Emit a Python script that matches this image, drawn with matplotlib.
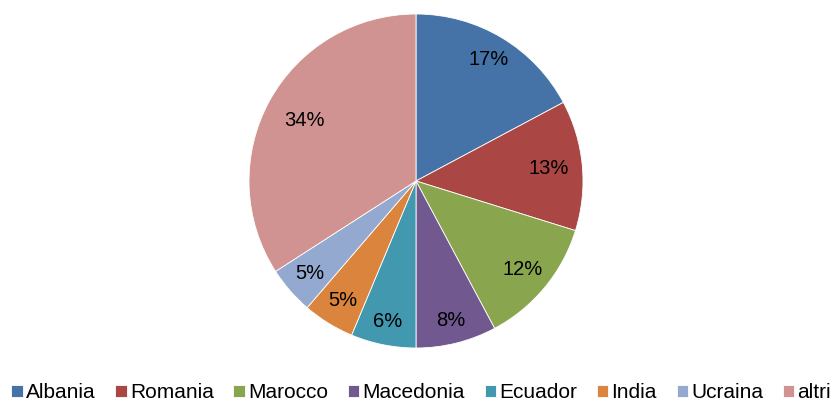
import matplotlib
matplotlib.use("Agg")
import numpy as np
import matplotlib.pyplot as plt

# data (percent of total)
countries = ["Albania", "Romania", "Marocco", "Macedonia", "Ecuador", "India", "Ucraina", "altri"]
shares = [17.2, 12.6, 12.4, 7.8, 6.3, 5.0, 4.6, 34.1]
colors = ["#4572A7", "#AA4643", "#89A54E", "#71588F", "#4198AF", "#DB843D", "#93A9CF", "#D19392"]

plt.rcParams['font.family'] = ['Liberation Sans', 'DejaVu Sans']

fig = plt.figure(figsize=(8.34, 4.05), dpi=100)
ax = fig.add_axes([(416 - 167) / 834, (405 - 348) / 405, 334 / 834, 334 / 405])

wedges, texts, autotexts = ax.pie(
    shares, colors=colors, startangle=90, counterclock=False,
    autopct='%.0f%%', pctdistance=0.84,
    wedgeprops=dict(edgecolor='white', linewidth=0.6),
    textprops=dict(fontsize=14.5, color='black'))

# excel-like label placement: big slices get labels a bit further in
label_r = [0.85, 0.80, 0.83, 0.86, 0.86, 0.84, 0.84, 0.76]
for w, t, r in zip(wedges, autotexts, label_r):
    ang = np.deg2rad((w.theta1 + w.theta2) / 2)
    t.set_position((r * np.cos(ang), r * np.sin(ang)))

ax.set_xlim(-1, 1)
ax.set_ylim(-1, 1)
ax.set_aspect('equal')

fig.legend(wedges, countries, loc='lower center', bbox_to_anchor=(0.505, -0.04),
           ncol=len(countries), frameon=False, fontsize=15,
           handlelength=0.55, handleheight=0.55, handletextpad=0.15,
           columnspacing=0.95)

fig.savefig("out.png", dpi=100)
